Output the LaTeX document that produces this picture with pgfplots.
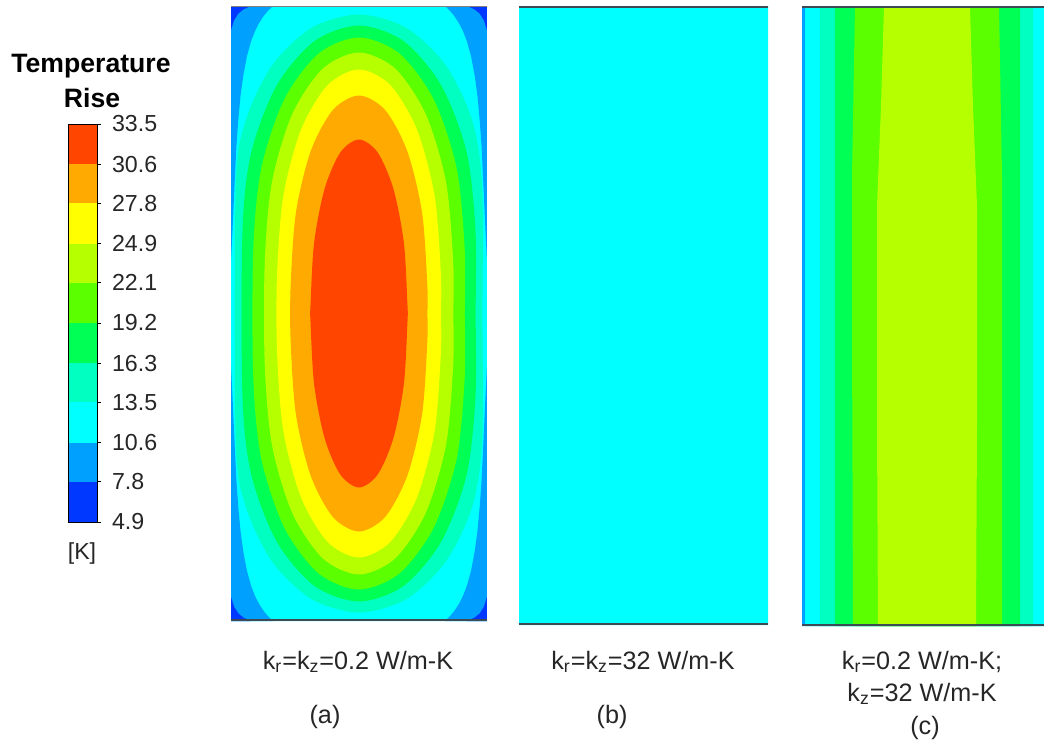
\documentclass[border=0pt]{standalone}
\usepackage{pgfplots}
\pgfplotsset{compat=1.18}
\usepackage{fontspec}
\setmainfont{Liberation Sans}

% banded colour map, 4.9 K (c1) to 33.5 K (c10)
\definecolor{c1}{HTML}{0038FF}
\definecolor{c2}{HTML}{00A0FF}
\definecolor{c3}{HTML}{00FFFF}
\definecolor{c4}{HTML}{00FFC0}
\definecolor{c5}{HTML}{00FF55}
\definecolor{c6}{HTML}{5CFF00}
\definecolor{c7}{HTML}{B5FF00}
\definecolor{c8}{HTML}{FFFF00}
\definecolor{c9}{HTML}{FFAA00}
\definecolor{c10}{HTML}{FF4500}
\definecolor{edge}{HTML}{3E4A54}

\pgfplotsset{
  panel/.style={anchor=south west, x=0.5pt, y=0.5pt, hide axis, xmin=0, ymin=0},
  band/.style={draw=none, fill=#1},
  sband/.style={draw=none, fill=#1, smooth},
}

\begin{document}
\begin{tikzpicture}
\path[use as bounding box] (0,0) rectangle (522pt,-375pt);

% ---------------- colour bar ----------------
\begin{axis}[at={(34pt,-261pt)}, anchor=south west, scale only axis,
    width=14.5pt, height=199pt,
    xmin=0, xmax=1, ymin=4.9, ymax=33.5,
    xtick=\empty,
    ytick={4.9,7.8,10.6,13.5,16.3,19.2,22.1,24.9,27.8,30.6,33.5},
    yticklabels={4.9,7.8,10.6,13.5,16.3,19.2,22.1,24.9,27.8,30.6,33.5},
    ytick pos=right, tick align=outside, major tick length=2pt,
    yticklabel style={font=\fontsize{11.6}{13}\selectfont, text=black!85, xshift=2pt},
    axis line style={black, line width=0.4pt},
    tick style={black, line width=0.4pt},
    axis on top]
\addplot[band=c1] coordinates {(0,4.9)(1,4.9)(1,7.8)(0,7.8)};
\addplot[band=c2] coordinates {(0,7.8)(1,7.8)(1,10.6)(0,10.6)};
\addplot[band=c3] coordinates {(0,10.6)(1,10.6)(1,13.5)(0,13.5)};
\addplot[band=c4] coordinates {(0,13.5)(1,13.5)(1,16.3)(0,16.3)};
\addplot[band=c5] coordinates {(0,16.3)(1,16.3)(1,19.2)(0,19.2)};
\addplot[band=c6] coordinates {(0,19.2)(1,19.2)(1,22.1)(0,22.1)};
\addplot[band=c7] coordinates {(0,22.1)(1,22.1)(1,24.9)(0,24.9)};
\addplot[band=c8] coordinates {(0,24.9)(1,24.9)(1,27.8)(0,27.8)};
\addplot[band=c9] coordinates {(0,27.8)(1,27.8)(1,30.6)(0,30.6)};
\addplot[band=c10] coordinates {(0,30.6)(1,30.6)(1,33.5)(0,33.5)};
\end{axis}

\node[font=\fontsize{13.3}{15}\selectfont\bfseries] at (45.5pt,-33pt) {Temperature};
\node[font=\fontsize{13.3}{15}\selectfont\bfseries] at (46pt,-49pt) {Rise};
\node[font=\fontsize{11.6}{13}\selectfont, text=black!85] at (41pt,-276.5pt) {[K]};

% ---------------- (a) kr = kz = 0.2 ----------------
\begin{axis}[panel, x=0.5224pt, at={(115.5pt,-310.5pt)}, xmax=245, ymax=615]
% 10.6-13.5 K everywhere first
\addplot[band=c3] coordinates {(0,0)(245,0)(245,615)(0,615)(0,0)};
% below 10.6 K: the four corner wedges
\addplot[band=c2] coordinates {(0,615)(40,615)(35.2,610)(31.3,605)(26.9,598)(23,590)(19.3,580)(15.3,565)(11.7,545)(9.1,525)(6.9,500)
  (5.2,475)(3.8,445)(2.5,415)(1.2,385)(0,360)(0,615)};
\addplot[band=c2] coordinates {(0,0)(40,0)(35.2,5)(31.3,10)(26.9,17)(23,25)(19.3,35)(15.3,50)(11.7,70)(9.1,90)(6.9,115)
  (5.2,140)(3.8,170)(2.5,200)(1.2,230)(0,255)(0,0)};
\addplot[band=c2] coordinates {(245,615)(205,615)(209.8,610)(213.7,605)(218.1,598)(222,590)(225.7,580)(229.7,565)(233.3,545)(235.9,525)(238.1,500)
  (239.8,475)(241.2,445)(242.5,415)(243.8,385)(245,360)(245,615)};
\addplot[band=c2] coordinates {(245,0)(205,0)(209.8,5)(213.7,10)(218.1,17)(222,25)(225.7,35)(229.7,50)(233.3,70)(235.9,90)(238.1,115)
  (239.8,140)(241.2,170)(242.5,200)(243.8,230)(245,255)(245,0)};
% below 7.8 K
\addplot[band=c1] coordinates {(0,615)(19,615)(12,611.7)(7,607.4)(3,600.9)(0,591)(0,615)};
\addplot[band=c1] coordinates {(0,0)(19,0)(12,3.3)(7,7.6)(3,14.1)(0,24)(0,0)};
\addplot[band=c1] coordinates {(245,615)(226,615)(233,611.7)(238,607.4)(242,600.9)(245,591)(245,615)};
\addplot[band=c1] coordinates {(245,0)(226,0)(233,3.3)(238,7.6)(242,14.1)(245,24)(245,0)};
% 13.5 K
\addplot[sband=c4] coordinates {(240.5,307.5)(240.5,431.5)(231.5,498.5)(205.9,555.2)(167.7,593.2)(122.5,606.5)(77.3,593.2)(39.1,555.2)(13.5,498.5)(4.5,431.5)
  (4.5,183.5)(13.5,116.5)(39.1,59.8)(77.3,21.8)(122.5,8.5)(167.7,21.8)(205.9,59.8)(231.5,116.5)(240.5,183.5)(240.5,307.5)};
% 16.3 K
\addplot[sband=c5] coordinates {(234,307.5)(234,390.5)(225.5,469)(201.3,535.5)(165.2,579.9)(122.5,595.5)(79.8,579.9)(43.7,535.5)(19.5,469)(11,390.5)
  (11,224.5)(19.5,146)(43.7,79.5)(79.8,35.1)(122.5,19.5)(165.2,35.1)(201.3,79.5)(225.5,146)(234,224.5)(234,307.5)};
% 19.2 K
\addplot[sband=c6] coordinates {(223.7,307.5)(223.7,371.5)(216,452.6)(194.1,521.4)(161.2,567.4)(122.5,583.5)(83.8,567.4)(50.9,521.4)(29,452.6)(21.3,371.5)
  (21.3,243.5)(29,162.4)(50.9,93.6)(83.8,47.6)(122.5,31.5)(161.2,47.6)(194.1,93.6)(216,162.4)(223.7,243.5)(223.7,307.5)};
% 22.1 K
\addplot[sband=c7] coordinates {(212.7,307.5)(212.7,358.5)(205.8,438.9)(186.3,507)(157,552.5)(122.5,568.5)(88,552.5)(58.7,507)(39.2,438.9)(32.3,358.5)
  (32.3,256.5)(39.2,176.1)(58.7,108)(88,62.5)(122.5,46.5)(157,62.5)(186.3,108)(205.8,176.1)(212.7,256.5)(212.7,307.5)};
% 24.9 K
\addplot[sband=c8] coordinates {(200.9,307.5)(200.9,346.5)(194.9,425)(177.9,491.5)(152.5,535.9)(122.5,551.5)(92.5,535.9)(67.1,491.5)(50.1,425)(44.1,346.5)
  (44.1,268.5)(50.1,190)(67.1,123.5)(92.5,79.1)(122.5,63.5)(152.5,79.1)(177.9,123.5)(194.9,190)(200.9,268.5)(200.9,307.5)};
% 27.8 K
\addplot[sband=c9] coordinates {(187.9,307.5)(187.9,335.5)(182.9,408.2)(168.7,469.9)(147.5,511)(122.5,525.5)(97.5,511)(76.3,469.9)(62.1,408.2)(57.1,335.5)
  (57.1,279.5)(62.1,206.8)(76.3,145.2)(97.5,104)(122.5,89.5)(147.5,104)(168.7,145.2)(182.9,206.8)(187.9,279.5)(187.9,307.5)};
% 30.6 K
\addplot[sband=c10] coordinates {(169,307.5)(169,313.5)(165.5,377.8)(155.4,432.3)(140.3,468.7)(122.5,481.5)(104.7,468.7)(89.6,432.3)(79.5,377.8)(76,313.5)
  (76,301.5)(79.5,237.2)(89.6,182.7)(104.7,146.3)(122.5,133.5)(140.3,146.3)(155.4,182.7)(165.5,237.2)(169,301.5)(169,307.5)};
\addplot[draw=gray, line width=0.5pt] coordinates {(0,614.6)(245,614.6)};
\addplot[draw=edge, line width=1pt] coordinates {(0,0.6)(245,0.6)};
\end{axis}

% ---------------- (b) kr = kz = 32 ----------------
\begin{axis}[panel, at={(259.5pt,-312.5pt)}, xmax=249, ymax=619]
\addplot[band=c3] coordinates {(0,0)(249,0)(249,619)(0,619)(0,0)};
\addplot[draw=edge, line width=1pt] coordinates {(0,618.4)(249,618.4)};
\addplot[draw=edge, line width=1pt] coordinates {(0,0.6)(249,0.6)};
\end{axis}

% ---------------- (c) kr = 0.2, kz = 32 ----------------
\begin{axis}[panel, at={(401pt,-313pt)}, xmax=242, ymax=620]
\addplot[band=c2] coordinates {(0,0)(242,0)(242,620)(0,620)(0,0)};
\addplot[band=c3] coordinates {(3,0)(3,620)(247,620)(247,0)(3,0)};
\addplot[band=c4] coordinates {(18,0)(18,620)(231,620)(231,0)(18,0)};
\addplot[band=c5] coordinates {(33,0)(33,620)(218,620)(218,0)(33,0)};
\addplot[band=c6] coordinates {(51,0)(50,300)(50,450)(53,620)(197,620)(200,450)(200,300)(200,0)(51,0)};
\addplot[band=c7] coordinates {(76,0)(75,200)(75,420)(79,520)(82,620)(168,620)(171,520)(175,420)(175,200)(174,0)(76,0)};
\addplot[draw=edge, line width=1pt] coordinates {(0,619.4)(242,619.4)};
\addplot[draw=edge, line width=1pt] coordinates {(0,0.6)(242,0.6)};
\end{axis}

% ---------------- captions ----------------
\begin{scope}[every node/.style={font=\fontsize{12.6}{14}\selectfont, text=black!85}]
\node at (179pt,-331pt) {k\textsubscript{r}=k\textsubscript{z}=0.2 W/m-K};
\node at (321.5pt,-331pt) {k\textsubscript{r}=k\textsubscript{z}=32 W/m-K};
\node at (461pt,-331pt) {k\textsubscript{r}=0.2 W/m-K;};
\node at (461pt,-347pt) {k\textsubscript{z}=32 W/m-K};
\node at (162.5pt,-358.5pt) {(a)};
\node at (306pt,-358.5pt) {(b)};
\node at (462.5pt,-364pt) {(c)};
\end{scope}
\end{tikzpicture}
\end{document}
